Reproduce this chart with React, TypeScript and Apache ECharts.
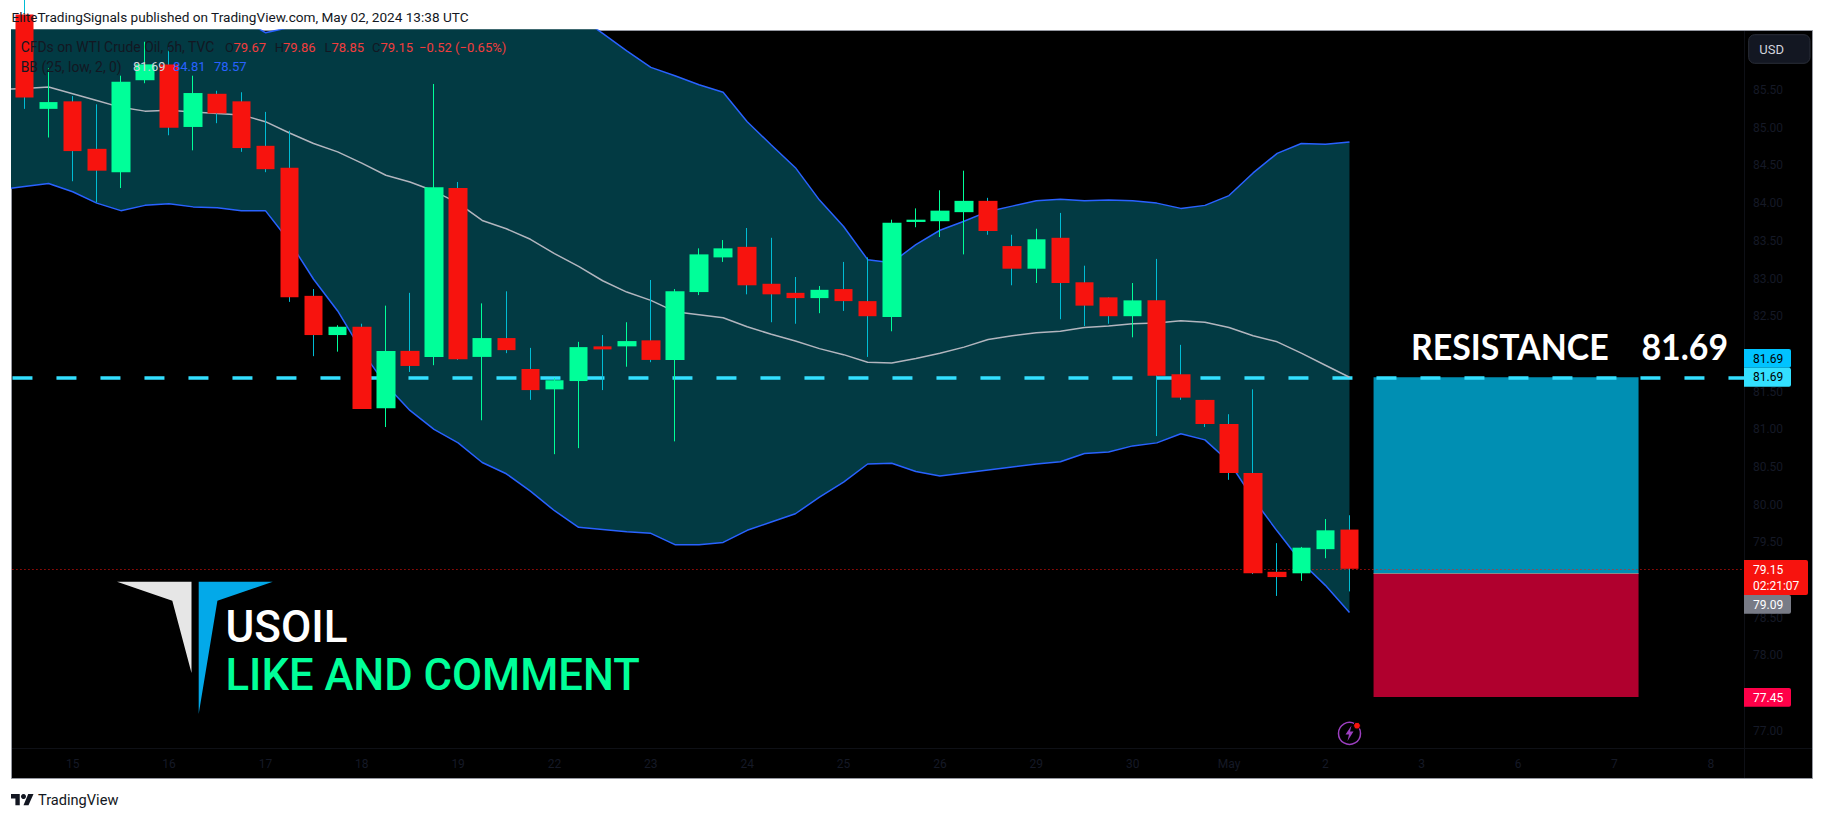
import React, { useEffect, useRef } from "react";
import * as echarts from "echarts";

// [open, close, low, high]
const candles: number[][] = [
  [86.5, 85.4, 85.25, 86.8],
  [85.25, 85.34, 84.87, 85.79],
  [85.35, 84.69, 84.29, 85.42],
  [84.72, 84.43, 84.01, 85.31],
  [84.41, 85.61, 84.2, 85.69],
  [85.63, 85.84, 85.59, 86.14],
  [85.84, 85.0, 84.9, 86.08],
  [85.01, 85.46, 84.7, 85.69],
  [85.45, 85.19, 85.06, 85.49],
  [85.35, 84.73, 84.68, 85.47],
  [84.76, 84.45, 84.41, 85.21],
  [84.47, 82.75, 82.69, 84.96],
  [82.77, 82.25, 81.97, 82.86],
  [82.25, 82.36, 82.03, 82.38],
  [82.36, 81.27, 81.27, 82.4],
  [81.28, 82.04, 81.03, 82.64],
  [82.04, 81.84, 81.76, 82.81],
  [81.96, 84.21, 81.85, 85.58],
  [84.2, 81.93, 81.92, 84.28],
  [81.96, 82.21, 81.12, 82.67],
  [82.21, 82.05, 82.01, 82.83],
  [81.8, 81.52, 81.39, 82.08],
  [81.53, 81.65, 80.67, 81.68],
  [81.64, 82.09, 80.75, 82.16],
  [82.1, 82.06, 81.52, 82.25],
  [82.1, 82.17, 81.83, 82.42],
  [82.18, 81.92, 81.89, 82.98],
  [81.92, 82.83, 80.84, 82.86],
  [82.82, 83.32, 82.78, 83.4],
  [83.28, 83.4, 83.22, 83.51],
  [83.42, 82.91, 82.79, 83.67],
  [82.93, 82.79, 82.42, 83.54],
  [82.81, 82.74, 82.4, 83.02],
  [82.74, 82.85, 82.54, 82.9],
  [82.86, 82.7, 82.57, 83.22],
  [82.7, 82.5, 81.96, 83.28],
  [82.49, 83.74, 82.3, 83.78],
  [83.75, 83.78, 83.68, 83.93],
  [83.76, 83.9, 83.55, 84.17],
  [83.88, 84.03, 83.32, 84.43],
  [84.03, 83.63, 83.58, 84.07],
  [83.43, 83.13, 82.91, 83.58],
  [83.13, 83.52, 82.94, 83.66],
  [83.54, 82.94, 82.46, 83.87],
  [82.95, 82.64, 82.37, 83.17],
  [82.75, 82.5, 82.4, 82.75],
  [82.5, 82.71, 82.22, 82.94],
  [82.71, 81.71, 80.91, 83.26],
  [81.73, 81.42, 81.39, 82.12],
  [81.39, 81.07, 81.03, 81.39],
  [81.07, 80.42, 80.33, 81.2],
  [80.42, 79.09, 79.08, 81.53],
  [79.11, 79.04, 78.79, 79.49],
  [79.09, 79.43, 78.99, 79.44],
  [79.41, 79.66, 79.29, 79.81],
  [79.67, 79.15, 78.85, 79.86],
];

// The bands carry one extra leading point: the bar just left of the visible frame.
const bbUpper = [
  87.2, 87.3, 87.4, 87.4, 87.3, 87.3, 87.2, 87.0, 86.9, 86.8, 86.45, 86.26, 86.33, 86.38, 86.42,
  86.46, 86.5, 86.52, 86.55, 86.57, 86.57, 86.56, 86.54, 86.52, 86.48, 86.25, 86.02, 85.8,
  85.69, 85.57, 85.47, 85.08, 84.77, 84.47, 84.04, 83.69, 83.25, 83.21, 83.45, 83.64, 83.76,
  83.89, 83.96, 84.03, 84.05, 84.03, 84.04, 84.03, 84.0, 83.93, 83.97, 84.1, 84.4, 84.66,
  84.79, 84.78, 84.81,
];
const bbBasis = [
  85.51, 85.52, 85.54, 85.45, 85.36, 85.27, 85.22, 85.23, 85.21, 85.19, 85.17, 85.08, 84.93, 84.79,
  84.68, 84.53, 84.37, 84.28, 84.16, 84.0, 83.77, 83.66, 83.52, 83.33, 83.16, 82.97, 82.82,
  82.71, 82.56, 82.52, 82.48, 82.36, 82.26, 82.17, 82.07, 81.99, 81.89, 81.88, 81.94, 82.01,
  82.09, 82.19, 82.24, 82.28, 82.3, 82.35, 82.37, 82.4, 82.41, 82.44, 82.42, 82.35, 82.24,
  82.16, 82.01, 81.85, 81.69,
];
const bbLower = [
  84.18, 84.22, 84.26, 84.15, 84.0, 83.9, 83.97, 83.99, 83.95, 83.94, 83.9, 83.9, 83.49, 82.99, 82.57,
  82.04, 81.59, 81.25, 81.0, 80.82, 80.56, 80.41, 80.18, 79.92, 79.7, 79.67, 79.64, 79.62,
  79.47, 79.47, 79.5, 79.66, 79.77, 79.88, 80.1, 80.3, 80.54, 80.55, 80.44, 80.38, 80.42,
  80.46, 80.5, 80.54, 80.57, 80.68, 80.7, 80.78, 80.82, 80.94, 80.86, 80.57, 80.08, 79.65,
  79.24, 78.93, 78.57,
];

const timeLabels = ["15", "16", "17", "18", "19", "22", "23", "24", "25", "26", "29", "30", "May", "2", "3", "6", "7", "8"];
const priceTicks = [77, 78, 78.5, 79.5, 80, 80.5, 81, 81.5, 82.5, 83, 83.5, 84, 84.5, 85, 85.5];

const resistance = 81.69;
const entry = 79.09;
const stop = 77.45;
const lastClose = 79.15;

const slotCount = 72;
const categories = ["Prev", ...Array.from({ length: slotCount }, (_, i) => `C${i}`)];
// Day labels sit on every fourth bar, starting with the third one.
const labelOf = (cat: string) => {
  const i = Number(cat.slice(1));
  return (i - 2) % 4 === 0 ? timeLabels[(i - 2) / 4] ?? "" : "";
};

const GREEN = "#00ff99";
const RED = "#f7130e";
const WICK_RED = "#00bcd4";
const DARK = "#131722";
const AXIS_TEXT = "#151926";
const FONT = "Roboto";

const txt = (x: number, y: number, text: string, fill: string, size = 13, extra: any = {}) => ({
  type: "text",
  x,
  y,
  z: 100,
  silent: true,
  scaleX: extra.scaleX || 1,
  style: {
    text,
    fill,
    font: `${extra.weight || 400} ${size}px ${extra.family || FONT}`,
    textVerticalAlign: "middle",
    textAlign: extra.align || "left",
  },
});

const box = (x: number, y: number, w: number, h: number, fill: string, r: any = 0, stroke?: string) => ({
  type: "rect",
  z: 90,
  silent: true,
  shape: { x, y, width: w, height: h, r },
  style: { fill, stroke: stroke || "none", lineWidth: stroke ? 1 : 0 },
});

const poly = (points: number[][], fill: string, z = 50) => ({
  type: "polygon",
  z,
  silent: true,
  shape: { points },
  style: { fill },
});

export default function App() {
  const ref = useRef<HTMLDivElement>(null);
  useEffect(() => {
    const chart = echarts.init(ref.current!, undefined, { renderer: "svg" });
    const blank = ["-", "-", "-", "-"];
    const wicks = [blank, ...candles];
    const bodies = [blank, ...candles.map(([o, c]) => [o, c, Math.min(o, c), Math.max(o, c)])];
    const band = bbUpper.map((u, i) => +(u - bbLower[i]).toFixed(2));
    const graphics: any[] = [
      {
        type: "rect",
        z: 0,
        silent: true,
        shape: { x: 11.5, y: 30.5, width: 1801, height: 748 },
        style: { fill: "#000000", stroke: "#9598a1", lineWidth: 1 },
      },
      { type: "line", z: 60, silent: true, shape: { x1: 1744.5, y1: 31, x2: 1744.5, y2: 778 }, style: { stroke: "#0e1016", lineWidth: 1 } },
      { type: "line", z: 60, silent: true, shape: { x1: 12, y1: 748.5, x2: 1812, y2: 748.5 }, style: { stroke: "#0e1016", lineWidth: 1 } },
      // header & footer
      txt(11.5, 17, "EliteTradingSignals published on TradingView.com, May 02, 2024 13:38 UTC", DARK, 13.6),
      poly([[11, 794], [19.75, 794], [19.75, 805.25], [15.4, 805.25], [15.4, 798.4], [11, 798.4]], DARK),
      { type: "circle", z: 50, silent: true, shape: { cx: 23.5, cy: 796.5, r: 2.5 }, style: { fill: DARK } },
      poly([[23.5, 805.25], [28.5, 805.25], [33.5, 794], [28.2, 794]], DARK),
      txt(38, 800, "TradingView", DARK, 14.6),
      // legend
      txt(20.7, 47, "CFDs on WTI Crude Oil, 6h, TVC", DARK, 13.9),
      txt(225, 47, "O", DARK, 13),
      txt(233.4, 47, "79.67", "#f23d3d", 13),
      txt(274.8, 47, "H", DARK, 13),
      txt(283, 47, "79.86", "#f23d3d", 13),
      txt(324.5, 47, "L", DARK, 13),
      txt(331.4, 47, "78.85", "#f23d3d", 13),
      txt(372, 47, "C", DARK, 13),
      txt(380.4, 47, "79.15", "#f23d3d", 13),
      txt(419, 47, "−0.52 (−0.65%)", "#f23d3d", 13),
      txt(20.7, 66.7, "BB (25, low, 2, 0)", DARK, 13.9),
      txt(133, 66.7, "81.69", "#d1d4dc", 13),
      txt(173, 66.7, "84.81", "#2962ff", 13),
      txt(214, 66.7, "78.57", "#2962ff", 13),
      // drawing texts
      poly([[117, 581.7], [191.5, 581.7], [191.5, 673], [172.3, 600.7]], "#e6e6e6"),
      poly([[198.7, 581.7], [272.8, 581.7], [217.4, 600.7], [198.7, 714]], "#03a9e9"),
      txt(225.5, 626.5, "USOIL", "#ffffff", 44, { weight: 500 }),
      txt(225.5, 675, "LIKE AND COMMENT", GREEN, 43.6, { weight: 500 }),
      txt(1411, 346, "RESISTANCE    81.69", "#ffffff", 36, { weight: 700, family: "Lato", scaleX: 0.94 }),
      // price scale boxes
      box(1748.7, 34.7, 61.3, 28.6, "#131722", 6, "#2a2e39"),
      txt(1759.3, 49, "USD", "#d1d4dc", 13),
      box(1744, 349, 47, 18.7, "#00c3ff", [0, 2, 2, 0]),
      txt(1753, 358.5, "81.69", "#000000", 12),
      box(1744, 367.7, 47, 19, "#33e0ff", [0, 2, 2, 0]),
      txt(1753, 377, "81.69", "#000000", 12),
      box(1744, 560, 64, 35, RED, [0, 2, 2, 0]),
      txt(1753, 570, "79.15", "#ffffff", 12),
      txt(1753, 586, "02:21:07", "#ffffff", 12),
      box(1744, 595, 47, 18.7, "#787b86", [0, 2, 2, 0]),
      txt(1753, 604.5, "79.09", "#ffffff", 12),
      box(1744, 688, 47, 18.7, "#ff0048", [0, 2, 2, 0]),
      txt(1753, 697.5, "77.45", "#ffffff", 12),
      // earnings/dividends icon
      { type: "circle", z: 50, silent: true, shape: { cx: 1349.5, cy: 733.4, r: 11 }, style: { fill: "#000", stroke: "#9c3fc0", lineWidth: 1.5 } },
      poly([[1351.5, 725.5], [1345.5, 734.5], [1349, 734.5], [1347.5, 741], [1353.5, 731.5], [1350, 731.5]], "#9c3fc0", 51),
      { type: "circle", z: 52, silent: true, shape: { cx: 1357, cy: 725.7, r: 3.4 }, style: { fill: RED, stroke: "#000", lineWidth: 1 } },
    ];

    chart.setOption({
      animation: false,
      backgroundColor: "#ffffff",
      graphic: { elements: graphics },
      grid: { left: 12.46, top: 30, width: 1734.5, height: 718, containLabel: false, show: false },
      xAxis: {
        type: "category",
        data: categories,
        min: 1,
        boundaryGap: true,
        axisLine: { show: false },
        axisTick: { show: false },
        splitLine: { show: false },
        axisLabel: {
          interval: 0,
          hideOverlap: false,
          formatter: (v: string) => labelOf(v),
          color: AXIS_TEXT,
          fontFamily: FONT,
          fontSize: 12,
          margin: 10,
        },
      },
      yAxis: {
        type: "value",
        position: "right",
        min: 76.773,
        max: 86.296,
        scale: true,
        axisLine: { show: false },
        axisTick: { show: false },
        splitLine: { show: false },
        axisLabel: {
          customValues: priceTicks,
          formatter: (v: number) => v.toFixed(2),
          color: AXIS_TEXT,
          fontFamily: FONT,
          fontSize: 12,
          margin: 6,
          align: "left",
        },
      },
      series: [
        {
          name: "BB lower",
          type: "line",
          z: 1,
          stack: "bb",
          data: bbLower,
          symbol: "none",
          lineStyle: { color: "#2962ff", width: 1.5 },
        },
        {
          name: "BB band",
          type: "line",
          z: 1,
          stack: "bb",
          data: band,
          symbol: "none",
          lineStyle: { color: "#2962ff", width: 1.5 },
          areaStyle: { color: "#023a43", opacity: 1 },
        },
        {
          name: "BB basis",
          type: "line",
          z: 2,
          data: bbBasis,
          symbol: "none",
          lineStyle: { color: "#b2b5be", width: 1.5 },
          markArea: {
            silent: true,
            z: 1,
            data: [
              [
                { xAxis: "C56", yAxis: resistance, itemStyle: { color: "#008fb3" } },
                { xAxis: "C67", yAxis: entry },
              ],
              [
                { xAxis: "C56", yAxis: entry, itemStyle: { color: "#b0002e" } },
                { xAxis: "C67", yAxis: stop },
              ],
            ],
          },
          markLine: {
            silent: true,
            z: 2,
            symbol: "none",
            label: { show: false },
            data: [
              { yAxis: resistance, lineStyle: { color: "#33dfff", width: 3.5, type: [20, 24] } },
              { yAxis: lastClose, lineStyle: { color: RED, width: 1, type: [1, 3] } },
              [
                { xAxis: "C56", yAxis: entry, lineStyle: { color: "#8a8a8a", width: 1, type: "solid" } },
                { xAxis: "C67", yAxis: entry },
              ],
            ],
          },
        },
        {
          name: "Wicks",
          type: "candlestick",
          z: 3,
          barWidth: 1,
          data: wicks,
          itemStyle: { color: GREEN, color0: WICK_RED, borderColor: GREEN, borderColor0: WICK_RED, borderWidth: 1 },
        },
        {
          name: "Bodies",
          type: "candlestick",
          z: 4,
          barWidth: 19,
          data: bodies,
          itemStyle: { color: GREEN, color0: RED, borderWidth: 0 },
        },
      ],
    });
    return () => chart.dispose();
  }, []);
  return <div ref={ref} style={{ position: "absolute", left: 0, top: 0, width: 1824, height: 819 }} />;
}
